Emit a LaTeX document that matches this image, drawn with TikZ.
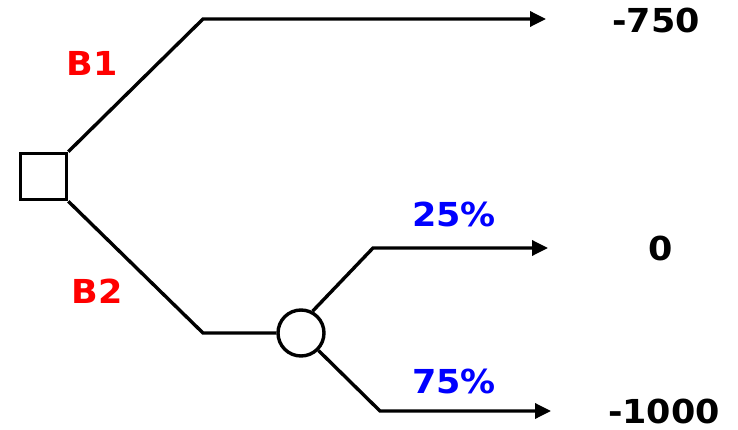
\documentclass[tikz,border=0pt]{standalone}
\usepackage{fontspec}
\setmainfont{DejaVu Sans}
\newfontfamily\lblfont[FakeStretch=1.06]{DejaVu Sans}
\usetikzlibrary{arrows.meta}
\begin{document}
\begin{tikzpicture}[x=1pt,y=-1pt,
  branch/.style={draw=black,line width=3.4pt},
  tip/.style={-{Triangle[length=16pt,width=15pt]}},
  lbl/.style={font=\lblfont\fontsize{33}{35}\selectfont\bfseries,inner sep=0pt},
  choice/.style={lbl,text=red},
  prob/.style={lbl,text=blue},
  pay/.style={lbl,text=black}]
\useasboundingbox (0,0) rectangle (738,430);
% decision and chance nodes
\node[draw,rectangle,minimum size=46pt,inner sep=0pt,line width=3.6pt] (dec) at (43.5,176.5) {};
\node[draw,circle,minimum size=46pt,inner sep=0pt,line width=3.4pt] (chance) at (301,333) {};
% bend points and arrow ends
\coordinate (k1) at (203,19);
\coordinate (e1) at (546,19);
\coordinate (k2) at (203,333);
\coordinate (k3) at (373,248);
\coordinate (e3) at (548,248);
\coordinate (k4) at (380,411);
\coordinate (e4) at (551,411);
% branches
\draw[branch,tip] (dec.north east) -- (k1) -- (e1);
\draw[branch] (dec.south east) -- (k2) -- (chance.west);
\draw[branch,tip] (chance.62) -- (k3) -- (e3);
\draw[branch,tip] (chance.-45) -- (k4) -- (e4);
% labels
\node[choice] (b1) at (92,63) {B1};
\node[choice] (b2) at (97,291) {B2};
\node[prob] (p1) at (454,214) {25\%};
\node[prob] (p2) at (454,381) {75\%};
\node[pay] (v1) at (656,20) {-750};
\node[pay] (v2) at (661,248) {0};
\node[pay] (v3) at (664,411) {-1000};
\end{tikzpicture}
\end{document}
